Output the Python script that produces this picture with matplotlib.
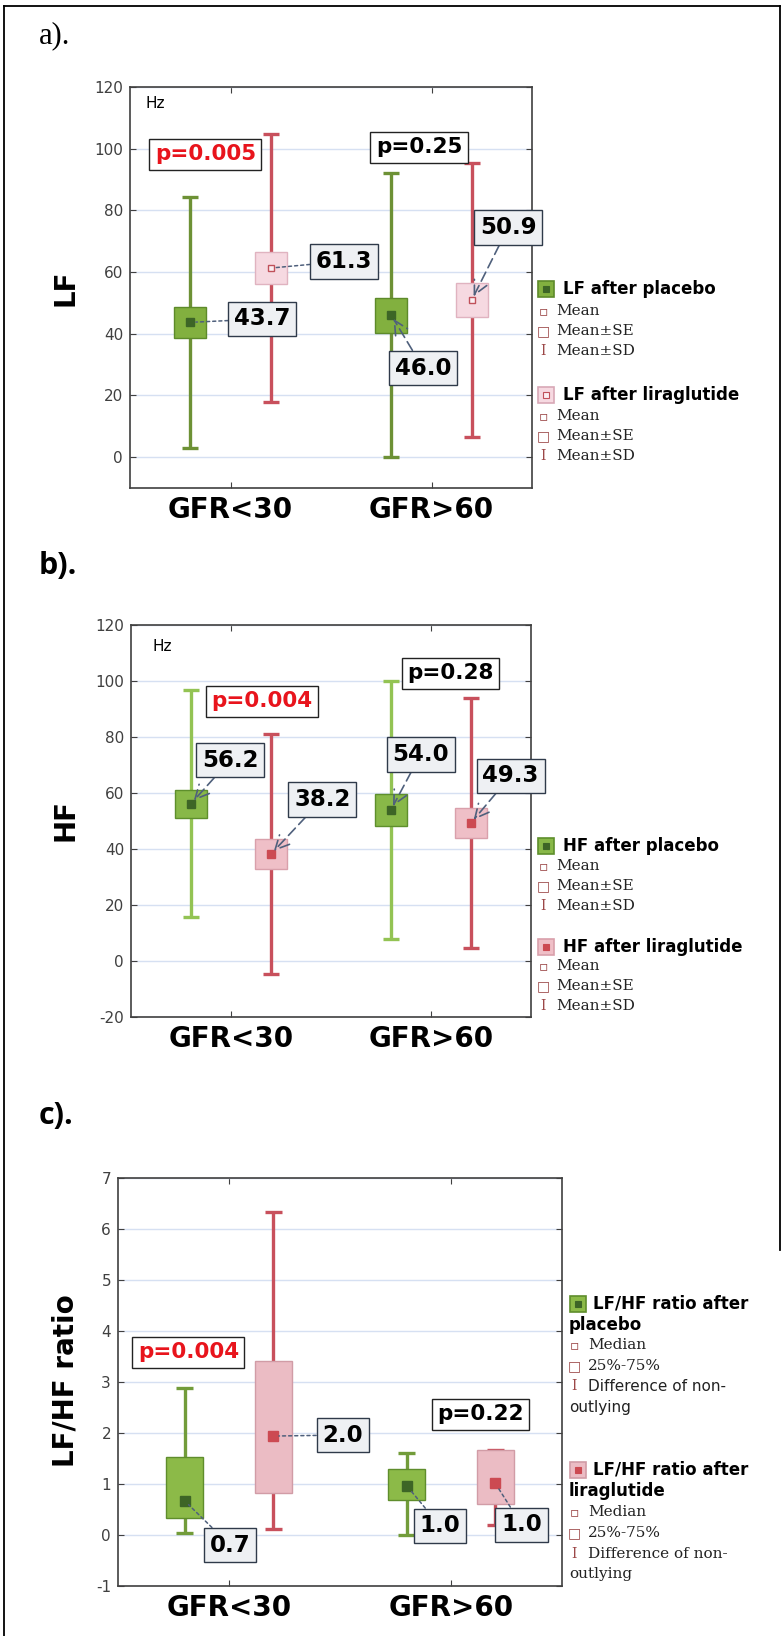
import matplotlib
matplotlib.use("Agg")
import matplotlib.pyplot as plt
import numpy as np
from matplotlib.lines import Line2D
from matplotlib.patches import Rectangle

plt.rcParams["axes.unicode_minus"] = False

W, H = 784, 1636

groups = ["GFR<30", "GFR>60"]

# a) LF, mean / SE / SD
lf_placebo_mean = [43.7, 46.0]
lf_placebo_se = [5.0, 5.7]
lf_placebo_sd = [40.8, 46.0]
lf_lira_mean = [61.3, 50.9]
lf_lira_se = [5.3, 5.5]
lf_lira_sd = [43.5, 44.4]
lf_p = ["p=0.005", "p=0.25"]

# b) HF, mean / SE / SD
hf_placebo_mean = [56.2, 54.0]
hf_placebo_se = [5.0, 5.7]
hf_placebo_sd = [40.6, 46.0]
hf_lira_mean = [38.2, 49.3]
hf_lira_se = [5.2, 5.3]
hf_lira_sd = [43.0, 44.6]
hf_p = ["p=0.004", "p=0.28"]

# c) LF/HF ratio, median / quartiles / non-outlier range
ratio_placebo_median = [0.67, 0.97]
ratio_placebo_q25 = [0.33, 0.69]
ratio_placebo_q75 = [1.52, 1.29]
ratio_placebo_low = [0.03, 0.0]
ratio_placebo_high = [2.88, 1.60]
ratio_lira_median = [1.94, 1.01]
ratio_lira_q25 = [0.82, 0.61]
ratio_lira_q75 = [3.41, 1.67]
ratio_lira_low = [0.12, 0.20]
ratio_lira_high = [6.34, 1.67]
ratio_placebo_labels = ["0.7", "1.0"]
ratio_lira_labels = ["2.0", "1.0"]
ratio_p = ["p=0.004", "p=0.22"]

RED_TXT = "#e8141c"
LABEL_FACE = "#eef0f3"
LABEL_EDGE = "#2f3a4a"
ARROW = "#4f607c"
SYM = "#9c4848"
RED_LINE = "#c8505c"
DARK_GREEN = "#3d6526"
RED_MARK = "#cc4a52"

centers = np.array([0.5, 1.5])
x_placebo = centers - 0.2
x_lira = centers + 0.2

fig = plt.figure(figsize=(W / 100, H / 100), dpi=100)


def fx(x):
    return x / W


def fy(y):
    return 1 - y / H


def make_axes(left, top, right, bottom):
    ax = fig.add_axes([fx(left), fy(bottom), (right - left) / W, (bottom - top) / H])
    ax.set_xlim(0, 2)
    ax.set_xticks(centers)
    ax.set_xticklabels(groups, fontsize=20, fontweight="bold", family="DejaVu Sans")
    ax.tick_params(axis="x", direction="in", length=4, top=True, pad=6, colors="#404040", labelcolor="black")
    ax.tick_params(axis="y", direction="in", length=4, right=True, pad=5, labelsize=11, colors="#404040")
    ax.yaxis.grid(True, color="#d6e0f2", lw=1)
    ax.set_axisbelow(True)
    for s in ax.spines.values():
        s.set_color("#404040")
        s.set_linewidth(1.2)
    return ax


def mean_se_sd(ax, xs, mean, se, sd, line_c, face, edge, mface, medge, ms):
    for x, m, s, d in zip(xs, mean, se, sd):
        ax.plot([x, x], [m - d, m + d], color=line_c, lw=2.4, zorder=2, solid_capstyle="butt")
        for yy in (m - d, m + d):
            ax.plot([x - 0.04, x + 0.04], [yy, yy], color=line_c, lw=2.4, zorder=2, solid_capstyle="butt")
        ax.add_patch(Rectangle((x - 0.08, m - s), 0.16, 2 * s, facecolor=face, edgecolor=edge, lw=1, zorder=3))
        ax.plot([x], [m], marker="s", ms=ms, mfc=mface, mec=medge, mew=1, zorder=4)


def median_box(ax, xs, med, q25, q75, low, high, line_c, face, edge, mface):
    for x, m, a, b, lo, hi in zip(xs, med, q25, q75, low, high):
        ax.plot([x, x], [lo, hi], color=line_c, lw=2.4, zorder=2, solid_capstyle="butt")
        for yy in (lo, hi):
            ax.plot([x - 0.04, x + 0.04], [yy, yy], color=line_c, lw=2.4, zorder=2, solid_capstyle="butt")
        ax.add_patch(Rectangle((x - 0.083, a), 0.166, b - a, facecolor=face, edgecolor=edge, lw=1, zorder=3))
        ax.plot([x], [m], marker="s", ms=6.5, mfc=mface, mec=mface, zorder=4)


def value_label(ax, text, xy, xytext, style):
    if style == "dotted":
        props = dict(arrowstyle="-", color=ARROW, lw=1.1, linestyle=(0, (2, 2)), shrinkA=0, shrinkB=4)
    else:
        props = dict(arrowstyle="->,head_length=0.6,head_width=0.3", color=ARROW, lw=1.2,
                     linestyle=(0, (6, 3)), shrinkA=0, shrinkB=3)
    ax.annotate(text, xy=xy, xytext=xytext, ha="center", va="center", fontsize=16.5, fontweight="bold",
                family="DejaVu Sans", zorder=6, arrowprops=props,
                bbox=dict(boxstyle="square,pad=0.25", fc=LABEL_FACE, ec=LABEL_EDGE, lw=1))


def p_label(ax, text, x, y, color):
    ax.text(x, y, text, ha="center", va="center", fontsize=15.5, fontweight="bold", color=color,
            family="DejaVu Sans", zorder=6,
            bbox=dict(boxstyle="square,pad=0.25", fc="white", ec="#222222", lw=1))


def legend_patch(x, y, face, edge, mface, medge):
    fig.add_artist(Rectangle((fx(x), fy(y + 16)), 16 / W, 16 / H, transform=fig.transFigure,
                             fc=face, ec=edge, lw=1.2))
    fig.add_artist(Rectangle((fx(x + 5), fy(y + 11)), 6 / W, 6 / H, transform=fig.transFigure,
                             fc=mface, ec=medge, lw=0.8))


def legend_rows(sym_x, text_x, rows, symbols, texts, fonts, wrap_x=None):
    for y, sym, txt, fam in zip(rows, symbols, texts, fonts):
        if sym:
            sfam = "DejaVu Serif" if sym == "I" else "DejaVu Sans"
            fig.text(fx(sym_x), fy(y), sym, ha="center", va="center", color=SYM, fontsize=10, family=sfam)
            tx = text_x
        else:
            tx = wrap_x if wrap_x is not None else text_x
        fig.text(fx(tx), fy(y), txt, ha="left", va="center", fontsize=11, family=fam, color="#222222")


# ---------------- a) LF ----------------
ax = make_axes(130, 87, 532, 488)
ax.set_ylim(-10, 120)
ax.set_yticks(range(0, 121, 20))
mean_se_sd(ax, x_placebo, lf_placebo_mean, lf_placebo_se, lf_placebo_sd,
           "#6d9135", "#82b03f", "#5d8a2a", DARK_GREEN, DARK_GREEN, 6)
mean_se_sd(ax, x_lira, lf_lira_mean, lf_lira_se, lf_lira_sd,
           RED_LINE, "#f6d9e1", "#e0b3c0", "#fbeef2", "#c0505a", 4.5)
value_label(ax, f"{lf_placebo_mean[0]:.1f}", (x_placebo[0], lf_placebo_mean[0]), (0.659, 44.8), "dotted")
value_label(ax, f"{lf_lira_mean[0]:.1f}", (x_lira[0], lf_lira_mean[0]), (1.066, 63.5), "dotted")
value_label(ax, f"{lf_placebo_mean[1]:.1f}", (x_placebo[1], lf_placebo_mean[1]), (1.458, 28.9), "arrow")
value_label(ax, f"{lf_lira_mean[1]:.1f}", (x_lira[1], lf_lira_mean[1]), (1.881, 74.4), "arrow")
p_label(ax, lf_p[0], 0.375, 98.2, RED_TXT)
p_label(ax, lf_p[1], 1.438, 100.4, "black")
ax.text(0.075, 114.6, "Hz", ha="left", va="center", fontsize=11)
fig.text(fx(66), fy(288), "LF", rotation=90, ha="center", va="center", fontsize=20, fontweight="bold")

legend_patch(538, 281, "#82b03f", "#5d8a2a", DARK_GREEN, DARK_GREEN)
fig.text(fx(563), fy(289), "LF after placebo", ha="left", va="center", fontsize=12, fontweight="bold")
legend_rows(543, 556, [310.7, 331, 350.7], ["▫", "□", "I"], ["Mean", "Mean±SE", "Mean±SD"], ["DejaVu Serif"] * 3)
legend_patch(538, 387, "#f6d9e1", "#d8a8b6", "#fbeef2", "#c0505a")
fig.text(fx(563), fy(395), "LF after liraglutide", ha="left", va="center", fontsize=12, fontweight="bold")
legend_rows(543, 556, [415.7, 435.7, 455.7], ["▫", "□", "I"], ["Mean", "Mean±SE", "Mean±SD"], ["DejaVu Serif"] * 3)

# ---------------- b) HF ----------------
ax = make_axes(131, 625, 531, 1017)
ax.set_ylim(-20, 120)
ax.set_yticks(range(-20, 121, 20))
mean_se_sd(ax, x_placebo, hf_placebo_mean, hf_placebo_se, hf_placebo_sd,
           "#93c353", "#88b848", "#5e8f2c", DARK_GREEN, DARK_GREEN, 6)
mean_se_sd(ax, x_lira, hf_lira_mean, hf_lira_se, hf_lira_sd,
           RED_LINE, "#efbfc7", "#d9a0ab", RED_MARK, RED_MARK, 6)
value_label(ax, f"{hf_placebo_mean[0]:.1f}", (x_placebo[0], hf_placebo_mean[0]), (0.495, 71.7), "arrow")
value_label(ax, f"{hf_lira_mean[0]:.1f}", (x_lira[0], hf_lira_mean[0]), (0.956, 57.7), "arrow")
value_label(ax, f"{hf_placebo_mean[1]:.1f}", (x_placebo[1], hf_placebo_mean[1]), (1.448, 73.8), "arrow")
value_label(ax, f"{hf_lira_mean[1]:.1f}", (x_lira[1], hf_lira_mean[1]), (1.898, 66.1), "arrow")
p_label(ax, hf_p[0], 0.655, 92.7, RED_TXT)
p_label(ax, hf_p[1], 1.599, 102.8, "black")
ax.text(0.105, 112.4, "Hz", ha="left", va="center", fontsize=11)
fig.text(fx(66), fy(820), "HF", rotation=90, ha="center", va="center", fontsize=20, fontweight="bold")

legend_patch(538, 838, "#88b848", "#5e8f2c", DARK_GREEN, DARK_GREEN)
fig.text(fx(563), fy(846.5), "HF after placebo", ha="left", va="center", fontsize=12, fontweight="bold")
legend_rows(543, 556, [866, 886, 906], ["▫", "□", "I"], ["Mean", "Mean±SE", "Mean±SD"], ["DejaVu Serif"] * 3)
legend_patch(538, 939, "#efbfc7", "#d9a0ab", RED_MARK, RED_MARK)
fig.text(fx(563), fy(947), "HF after liraglutide", ha="left", va="center", fontsize=12, fontweight="bold")
legend_rows(543, 556, [966, 986, 1006], ["▫", "□", "I"], ["Mean", "Mean±SE", "Mean±SD"], ["DejaVu Serif"] * 3)

# ---------------- c) LF/HF ratio ----------------
ax = make_axes(118, 1178, 562, 1586)
ax.set_ylim(-1, 7)
ax.set_yticks(range(-1, 8))
median_box(ax, x_placebo, ratio_placebo_median, ratio_placebo_q25, ratio_placebo_q75,
           ratio_placebo_low, ratio_placebo_high, "#729c3a", "#8cba48", "#5f8d2c", DARK_GREEN)
median_box(ax, x_lira, ratio_lira_median, ratio_lira_q25, ratio_lira_q75,
           ratio_lira_low, ratio_lira_high, RED_LINE, "#ebbcc4", "#d19ca6", RED_MARK)
value_label(ax, ratio_placebo_labels[0], (x_placebo[0], ratio_placebo_median[0]), (0.505, -0.2), "dotted")
value_label(ax, ratio_lira_labels[0], (x_lira[0], ratio_lira_median[0]), (1.012, 1.96), "dotted")
value_label(ax, ratio_placebo_labels[1], (x_placebo[1], ratio_placebo_median[1]), (1.45, 0.18), "dotted")
value_label(ax, ratio_lira_labels[1], (x_lira[1], ratio_lira_median[1]), (1.818, 0.2), "dotted")
p_label(ax, ratio_p[0], 0.317, 3.58, RED_TXT)
p_label(ax, ratio_p[1], 1.632, 2.37, "black")
fig.text(fx(66), fy(1381), "LF/HF ratio", rotation=90, ha="center", va="center", fontsize=20, fontweight="bold")

legend_patch(570, 1296, "#8cba48", "#5f8d2c", DARK_GREEN, DARK_GREEN)
fig.text(fx(593), fy(1304), "LF/HF ratio after", ha="left", va="center", fontsize=12, fontweight="bold")
fig.text(fx(569), fy(1325), "placebo", ha="left", va="center", fontsize=12, fontweight="bold")
legend_rows(574, 588, [1345, 1366.5, 1386.5, 1407.5], ["▫", "□", "I", ""],
            ["Median", "25%-75%", "Difference of non-", "outlying"],
            ["DejaVu Serif", "DejaVu Serif", "DejaVu Sans", "DejaVu Sans"], wrap_x=569)
legend_patch(570, 1462, "#ebbcc4", "#d19ca6", RED_MARK, RED_MARK)
fig.text(fx(593), fy(1470), "LF/HF ratio after", ha="left", va="center", fontsize=12, fontweight="bold")
fig.text(fx(569), fy(1491), "liraglutide", ha="left", va="center", fontsize=12, fontweight="bold")
legend_rows(574, 588, [1512, 1533, 1554, 1574], ["▫", "□", "I", ""],
            ["Median", "25%-75%", "Difference of non-", "outlying"], ["DejaVu Serif"] * 4, wrap_x=569)

# panel letters
fig.text(fx(39), fy(43), "a).", ha="left", va="baseline", fontsize=22, family="Liberation Serif")
fig.text(fx(39), fy(574), "b).", ha="left", va="baseline", fontsize=22, fontweight="bold", family="Open Sans")
fig.text(fx(39), fy(1124), "c).", ha="left", va="baseline", fontsize=22, fontweight="bold", family="Open Sans")

# outer frame
for xs, ys in [((4, 4), (6, 1636)), ((4, 780), (6, 6)), ((780, 780), (6, 1250))]:
    fig.add_artist(Line2D([fx(v) for v in xs], [fy(v) for v in ys], transform=fig.transFigure,
                          color="black", lw=1.3))

fig.savefig("out.png", dpi=100)
